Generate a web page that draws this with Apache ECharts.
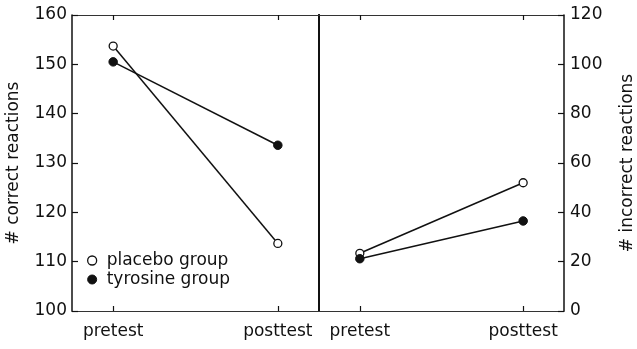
<!DOCTYPE html>
<html><head><meta charset="utf-8">
<script src="https://cdn.jsdelivr.net/npm/echarts@6/dist/echarts.min.js"></script>
<style>html,body{margin:0;padding:0;background:#fff}#c{width:637px;height:349px}</style>
</head><body><div id="c"></div><script>
const categories = ['pretest', 'posttest'];
const correctPlacebo = [153.7, 113.7];
const correctTyrosine = [150.5, 133.6];
const incorrectPlacebo = [23.4, 52.0];
const incorrectTyrosine = [21.2, 36.5];
const correctTicks = [100, 110, 120, 130, 140, 150, 160];
const incorrectTicks = [0, 20, 40, 60, 80, 100, 120];
const legendNames = ['placebo group', 'tyrosine group'];

const FONT = 'DejaVu Sans';
const INK = '#111';
const catIdx = categories.map((c, i) => i);
const toPts = arr => arr.map((v, i) => [i, v]);

function xAx(gridIndex, pos, labels) {
  return {
    type: 'value', gridIndex, position: pos,
    min: -0.25, max: 1.25, interval: 0.25,
    axisLine: { show: true, onZero: false, lineStyle: { color: '#333', width: 1 } },
    axisTick: { show: true, inside: true, length: 5, customValues: catIdx, lineStyle: { color: INK, width: 1.2 } },
    axisLabel: labels ? {
      show: true, customValues: catIdx, margin: 12,
      formatter: v => categories[Math.round(v)] || '',
      color: INK, fontFamily: FONT, fontSize: 17
    } : { show: false },
    splitLine: { show: false }
  };
}

function yAx(gridIndex, pos, ticks, name, showLabels, lw) {
  return {
    type: 'value', gridIndex, position: pos,
    min: ticks[0], max: ticks[ticks.length - 1], interval: ticks[1] - ticks[0],
    name: name || '', nameLocation: 'middle', nameGap: pos === 'left' ? 50 : 55,
    nameRotate: 90,
    nameTextStyle: { color: INK, fontFamily: FONT, fontSize: 17 },
    axisLine: { show: true, onZero: false, lineStyle: { color: INK, width: lw } },
    axisTick: { show: showLabels, inside: true, length: 6, lineStyle: { color: INK, width: 1.2 } },
    axisLabel: showLabels ? { show: true, margin: pos === 'left' ? 5 : 6, color: INK, fontFamily: FONT, fontSize: 17 } : { show: false },
    splitLine: { show: false }
  };
}

function ser(name, data, xi, yi, open) {
  return {
    name, type: 'line', xAxisIndex: xi, yAxisIndex: yi,
    data: toPts(data),
    symbol: 'circle', symbolSize: open ? 8 : 8.5,
    showSymbol: true, animation: false,
    lineStyle: { color: INK, width: 1.5 },
    itemStyle: open ? { color: '#fff', borderColor: INK, borderWidth: 1.3 } : { color: INK, borderColor: INK, borderWidth: 1 },
    z: 3
  };
}

const chart = echarts.init(document.getElementById('c'), null, { renderer: 'canvas' });
chart.setOption({
  backgroundColor: '#fff',
  animation: false,
  grid: [
    { left: 72, top: 15, width: 247, height: 296 },
    { left: 319, top: 15, width: 248, height: 296 }
  ],
  legend: {
    orient: 'vertical', left: 82, top: 247,
    itemWidth: 9, itemHeight: 9, itemGap: 2,
    textStyle: { color: INK, fontFamily: FONT, fontSize: 17, padding: [0, 0, 0, 5] },
    data: [
      { name: legendNames[0], icon: 'circle', itemStyle: { color: '#fff', borderColor: INK, borderWidth: 1.3 } },
      { name: legendNames[1], icon: 'circle', itemStyle: { color: INK, borderColor: INK, borderWidth: 1 } }
    ]
  },
  xAxis: [xAx(0, 'bottom', true), xAx(0, 'top', false), xAx(1, 'bottom', true), xAx(1, 'top', false)],
  yAxis: [
    yAx(0, 'left', correctTicks, '# correct reactions', true, 1.5),
    yAx(0, 'right', correctTicks, '', false, 2),
    yAx(1, 'right', incorrectTicks, '# incorrect reactions', true, 1.5),
    yAx(1, 'left', incorrectTicks, '', false, 2)
  ],
  series: [
    ser(legendNames[0], correctPlacebo, 0, 0, true),
    ser(legendNames[1], correctTyrosine, 0, 0, false),
    ser(legendNames[0], incorrectPlacebo, 2, 2, true),
    ser(legendNames[1], incorrectTyrosine, 2, 2, false)
  ]
});
</script></body></html>
